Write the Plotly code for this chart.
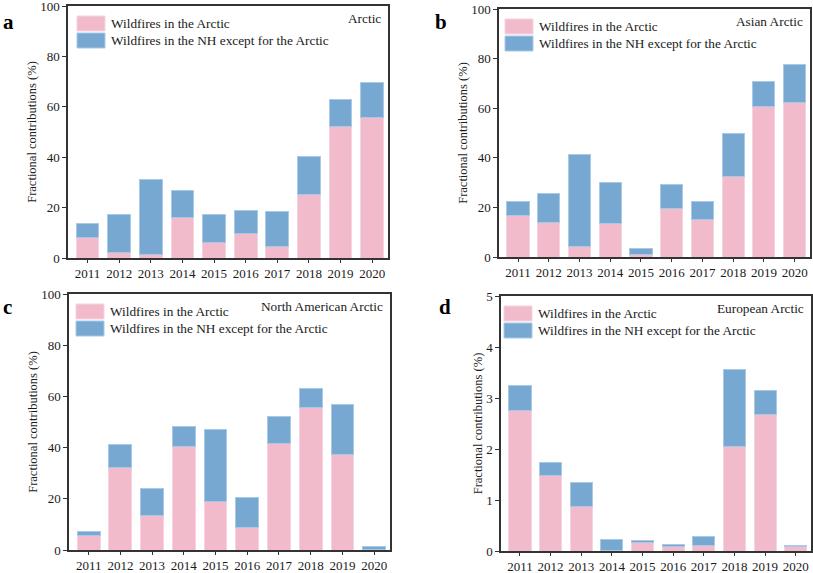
import plotly.graph_objects as go
from plotly.subplots import make_subplots

years = ["2011", "2012", "2013", "2014", "2015", "2016", "2017", "2018", "2019", "2020"]

# Panel a: Arctic (pink = Arctic wildfires, total = stacked top)
a_arctic = [8.1, 2.2, 1.3, 16.0, 6.2, 9.8, 4.6, 25.3, 52.0, 55.7]
a_total = [13.5, 17.4, 31.2, 26.9, 17.4, 18.9, 18.3, 40.2, 63.0, 69.6]
# Panel b: Asian Arctic
b_arctic = [16.9, 14.1, 4.3, 13.4, 0.9, 19.4, 15.0, 32.3, 60.7, 62.1]
b_total = [22.4, 25.7, 41.2, 30.0, 3.4, 29.1, 22.3, 49.7, 70.6, 77.7]
# Panel c: North American Arctic
c_arctic = [5.6, 32.1, 13.4, 40.5, 19.1, 8.7, 41.7, 55.5, 37.3, 0.1]
c_total = [7.4, 41.3, 23.9, 48.4, 47.0, 20.5, 52.3, 63.0, 56.8, 1.3]
# Panel d: European Arctic
d_arctic = [2.76, 1.48, 0.88, 0.01, 0.17, 0.09, 0.10, 2.04, 2.68, 0.08]
d_total = [3.25, 1.73, 1.35, 0.22, 0.21, 0.13, 0.29, 3.55, 3.14, 0.11]

panel_letters = ["a", "b", "c", "d"]
region_names = ["Arctic", "Asian Arctic", "North American Arctic", "European Arctic"]
y_ranges = [[0, 100], [0, 100], [0, 100], [0, 5]]
y_dticks = [20, 20, 20, 1]
name_arctic = "Wildfires in the Arctic"
name_nh = "Wildfires in the NH except for the Arctic"

PINK = "#F1BBCC"
PINK_EDGE = "#F6D3DE"
BLUE = "#76A8D2"
BLUE_EDGE = "#A8CAE6"
FONT = "Liberation Serif, Times New Roman, serif"
TXT = "#1a1a1a"
W, H = 813, 573

# axis boxes in pixels (left, right, top, bottom)
boxes = [(68, 388, 6, 258), (499, 810, 9, 257), (69, 390, 294, 550), (501, 811, 296, 551)]
# legend swatch left offsets (px from axis left)
leg_left = [9, 6, 7, 3]

fig = make_subplots(rows=2, cols=2)
panels = [(a_arctic, a_total), (b_arctic, b_total), (c_arctic, c_total), (d_arctic, d_total)]

for i, (arc, tot) in enumerate(panels):
    r, c = i // 2 + 1, i % 2 + 1
    nh = [round(t - a, 4) for a, t in zip(arc, tot)]
    fig.add_trace(go.Bar(x=years, y=arc, name=name_arctic, showlegend=False,
                         marker=dict(color=PINK, line=dict(color=PINK_EDGE, width=1)), width=0.72), row=r, col=c)
    fig.add_trace(go.Bar(x=years, y=nh, name=name_nh, showlegend=False,
                         marker=dict(color=BLUE, line=dict(color=BLUE_EDGE, width=1)), width=0.72), row=r, col=c)

fig.update_layout(
    width=W, height=H, barmode="stack", plot_bgcolor="white", paper_bgcolor="white",
    margin=dict(l=0, r=0, t=0, b=0, autoexpand=False), font=dict(family=FONT, size=13, color=TXT),
)

annotations = []
shapes = []
for i in range(4):
    L, R, T, B = boxes[i]
    pw, ph = R - L, B - T
    xd = [L / W, R / W]
    yd = [1 - B / H, 1 - T / H]
    sfx = "" if i == 0 else str(i + 1)
    fig.layout["xaxis" + sfx].update(
        domain=xd, range=[-0.62, 9.5], type="category", showline=True, linecolor="#333", linewidth=1.5,
        mirror=True, ticks="outside", ticklen=3, tickwidth=1.2, tickcolor="#333", showgrid=False,
        automargin=False, ticklabeloverflow="allow", tickfont=dict(size=13, family=FONT, color=TXT),
    )
    fig.layout["yaxis" + sfx].update(
        domain=yd, range=y_ranges[i], dtick=y_dticks[i], showline=True, linecolor="#333", linewidth=1.5,
        mirror=True, ticks="outside", ticklen=4, tickwidth=1.2, tickcolor="#333", showgrid=False, zeroline=False,
        automargin=False, ticklabeloverflow="allow", tickfont=dict(size=13, family=FONT, color=TXT),
        title=dict(text="Fractional contributions (%)", font=dict(size=12.5, family=FONT, color=TXT), standoff=1),
    )
    xr, yr = "x" + sfx + " domain", "y" + sfx + " domain"
    # legend (swatches + labels)
    for k, (nm, col, edge) in enumerate([(name_arctic, PINK, PINK_EDGE), (name_nh, BLUE, BLUE_EDGE)]):
        top = 10 + k * 17
        bot = top + 15
        x0 = leg_left[i]
        shapes.append(dict(type="rect", xref=xr, yref=yr, x0=x0 / pw, x1=(x0 + 28) / pw,
                           y0=1 - bot / ph, y1=1 - top / ph, fillcolor=col, line=dict(color=edge, width=1)))
        annotations.append(dict(xref=xr, yref=yr, x=(x0 + 32) / pw, y=1 - (top + 7.5) / ph, text=nm,
                                showarrow=False, xanchor="left", yanchor="middle",
                                font=dict(size=13.3, family=FONT, color=TXT)))
    # region name
    annotations.append(dict(xref=xr, yref=yr, x=1 - 5 / pw, y=1 - 12.5 / ph,
                            text=region_names[i], showarrow=False, xanchor="right", yanchor="middle",
                            font=dict(size=13.3, family=FONT, color=TXT)))

letter_pos = [(1, 22), (433, 22), (1, 307), (437, 307)]
for (px, py), letter in zip(letter_pos, panel_letters):
    annotations.append(dict(xref="paper", yref="paper", x=px / W, y=1 - py / H, text="<b>" + letter + "</b>",
                            showarrow=False, xanchor="left", yanchor="middle",
                            font=dict(size=21, family=FONT, color="#000")))
fig.update_layout(annotations=annotations, shapes=shapes)

fig.write_html("out.html", config={"displayModeBar": False},
               post_script="document.body.style.margin='0';document.body.style.overflow='hidden';")
